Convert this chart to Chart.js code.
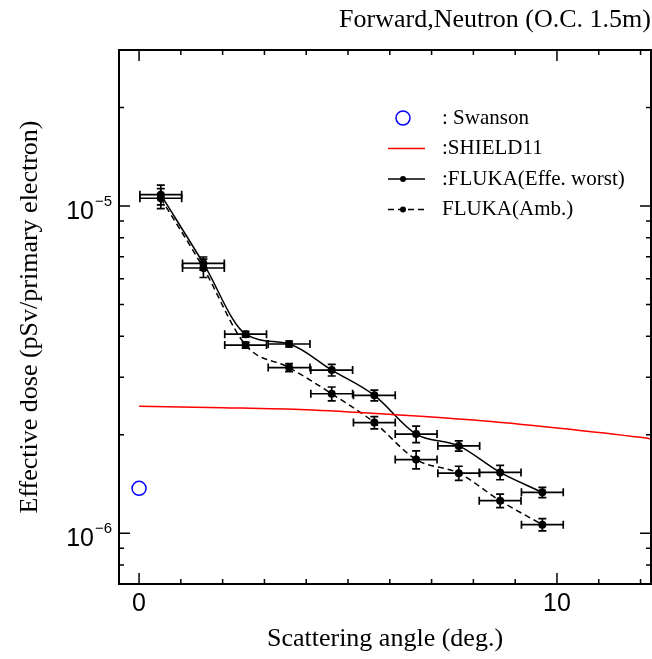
<!DOCTYPE html>
<html>
<head>
<meta charset="utf-8">
<script src="https://cdn.jsdelivr.net/npm/chart.js@4.4.1/dist/chart.umd.min.js"></script>
<style>
  html, body { margin: 0; padding: 0; background: #fff; }
  canvas { display: block; }
</style>
</head>
<body>
<canvas id="doseChart" width="652" height="659"></canvas>
<script>
// FLUKA bins (deg.), each bin is +-0.5 deg wide
const flukaAngles = [0.52, 1.54, 2.55, 3.59, 4.61, 5.63, 6.63, 7.65, 8.64, 9.65];
const flukaAngleErr = 0.5;

// effective dose, worst geometry
const flukaEffeWorst    = [1.084e-5, 6.68e-6, 4.06e-6, 3.79e-6, 3.155e-6, 2.64e-6, 2.01e-6, 1.85e-6, 1.535e-6, 1.334e-6];
const flukaEffeWorstErr = [7.5e-7, 3.1e-7, 8.5e-8, 8e-8, 1.3e-7, 1.0e-7, 1.17e-7, 6.6e-8, 7.7e-8, 4.8e-8];

// ambient dose equivalent
const flukaAmb    = [1.057e-5, 6.47e-6, 3.76e-6, 3.21e-6, 2.67e-6, 2.18e-6, 1.68e-6, 1.527e-6, 1.258e-6, 1.063e-6];
const flukaAmbErr = [7.4e-7, 4.2e-7, 8e-8, 9e-8, 1.3e-7, 9.4e-8, 1.06e-7, 7.6e-8, 6e-8, 4.6e-8];

// SHIELD11 curve
const shieldAngles = [0, 2, 4, 6, 8, 10, 12, 12.3];
const shieldDose   = [2.444e-6, 2.42e-6, 2.385e-6, 2.31e-6, 2.22e-6, 2.10e-6, 1.965e-6, 1.94e-6];

// Swanson estimate
const swansonAngle = [0];
const swansonDose  = [1.372e-6];

// axis ticks
const xLabelTicks = [0, 10];
const xMinorTicks = [0, 1, 2, 3, 4, 5, 6, 7, 8, 9, 10, 11, 12];
const yLabelExponents = [-6, -5];
const yMinorTicks = [7e-7, 8e-7, 9e-7, 1e-6, 2e-6, 3e-6, 4e-6, 5e-6, 6e-6, 7e-6, 8e-6, 9e-6, 1e-5, 2e-5];

function toPoints(xs, ys) {
    return xs.map((x, i) => ({ x: x, y: ys[i] }));
}

const serif = 'Liberation Serif';
const sans = 'Liberation Sans';

// error bars for datasets that carry xErr / yErr
const errorBars = {
    id: 'errorBars',
    afterDatasetsDraw(chart) {
        const ctx = chart.ctx;
        const xs = chart.scales.x, ys = chart.scales.y;
        const cap = 4;
        chart.data.datasets.forEach(ds => {
            if (!ds.yErr) return;
            ctx.save();
            ctx.strokeStyle = '#000';
            ctx.lineWidth = 1.7;
            ctx.beginPath();
            ds.data.forEach((p, i) => {
                const px = xs.getPixelForValue(p.x);
                const py = ys.getPixelForValue(p.y);
                const x0 = xs.getPixelForValue(p.x - ds.xErr);
                const x1 = xs.getPixelForValue(p.x + ds.xErr);
                const y0 = ys.getPixelForValue(p.y - ds.yErr[i]);
                const y1 = ys.getPixelForValue(p.y + ds.yErr[i]);
                ctx.moveTo(x0, py); ctx.lineTo(x1, py);
                ctx.moveTo(x0, py - cap); ctx.lineTo(x0, py + cap);
                ctx.moveTo(x1, py - cap); ctx.lineTo(x1, py + cap);
                ctx.moveTo(px, y0); ctx.lineTo(px, y1);
                ctx.moveTo(px - cap, y0); ctx.lineTo(px + cap, y0);
                ctx.moveTo(px - cap, y1); ctx.lineTo(px + cap, y1);
            });
            ctx.stroke();
            ctx.restore();
        });
    }
};

// box frame with inward ticks on all four sides
const frameTicks = {
    id: 'frameTicks',
    afterDraw(chart) {
        const { ctx, chartArea: a, scales: { x, y } } = chart;
        ctx.save();
        ctx.strokeStyle = '#000';
        ctx.lineWidth = 1.5;
        ctx.beginPath();
        xMinorTicks.forEach(v => {
            const px = x.getPixelForValue(v);
            const len = xLabelTicks.includes(v) ? 11 : 5;
            ctx.moveTo(px, a.bottom); ctx.lineTo(px, a.bottom - len);
            ctx.moveTo(px, a.top); ctx.lineTo(px, a.top + len);
        });
        yMinorTicks.forEach(v => {
            const py = y.getPixelForValue(v);
            const lg = Math.log10(v);
            const len = Math.abs(lg - Math.round(lg)) < 1e-9 ? 11 : 5;
            ctx.moveTo(a.left, py); ctx.lineTo(a.left + len, py);
            ctx.moveTo(a.right, py); ctx.lineTo(a.right - len, py);
        });
        ctx.stroke();
        ctx.lineWidth = 2;
        ctx.strokeRect(a.left, a.top, a.right - a.left, a.bottom - a.top);
        ctx.restore();
    }
};

// 10^n labels on the y axis
const yPowerLabels = {
    id: 'yPowerLabels',
    afterDraw(chart) {
        const ctx = chart.ctx, ys = chart.scales.y;
        const right = chart.chartArea.left - 25;
        ctx.save();
        ctx.fillStyle = '#000';
        ctx.textBaseline = 'alphabetic';
        yLabelExponents.forEach(e => {
            const py = ys.getPixelForValue(Math.pow(10, e));
            ctx.font = '25px "' + sans + '"';
            ctx.textAlign = 'right';
            ctx.fillText('10', right, py + 13);
            ctx.font = '15px "' + sans + '"';
            ctx.textAlign = 'left';
            ctx.fillText('\u2212' + Math.abs(e), right + 1, py);
        });
        ctx.restore();
    }
};

// legend inside the plot, upper right
const insideLegend = {
    id: 'insideLegend',
    afterDraw(chart) {
        const ctx = chart.ctx;
        const lineX0 = 388, lineX1 = 425, markX = 403, textX = 442;
        const rowY = 118, rowGap = 30.5;
        ctx.save();
        ctx.font = '21px "' + serif + '"';
        ctx.textBaseline = 'middle';
        chart.data.datasets.forEach((ds, i) => {
            const y = rowY + i * rowGap;
            if (ds.showLine) {
                ctx.strokeStyle = ds.borderColor;
                ctx.lineWidth = ds.borderWidth;
                ctx.setLineDash(ds.borderDash || []);
                ctx.beginPath();
                ctx.moveTo(lineX0, y); ctx.lineTo(lineX1, y);
                ctx.stroke();
                ctx.setLineDash([]);
                if (ds.pointRadius > 0) {
                    ctx.fillStyle = ds.pointBackgroundColor;
                    ctx.beginPath();
                    ctx.arc(markX, y, 3, 0, 2 * Math.PI);
                    ctx.fill();
                }
            } else {
                ctx.strokeStyle = ds.pointBorderColor;
                ctx.lineWidth = ds.pointBorderWidth;
                ctx.beginPath();
                ctx.arc(markX, y, 7, 0, 2 * Math.PI);
                ctx.stroke();
            }
            ctx.fillStyle = '#000';
            ctx.textAlign = 'left';
            ctx.fillText(ds.label, textX, y);
        });
        ctx.restore();
    }
};

const ctx = document.getElementById('doseChart').getContext('2d');
new Chart(ctx, {
    type: 'scatter',
    data: {
        datasets: [
            {
                label: ': Swanson',
                data: toPoints(swansonAngle, swansonDose),
                showLine: false,
                pointStyle: 'circle',
                pointRadius: 7,
                pointBorderColor: '#0000ff',
                pointBackgroundColor: 'rgba(0,0,0,0)',
                pointBorderWidth: 1.5
            },
            {
                label: ':SHIELD11',
                data: toPoints(shieldAngles, shieldDose),
                showLine: true,
                borderColor: '#ff0000',
                borderWidth: 1.5,
                pointRadius: 0,
                cubicInterpolationMode: 'monotone'
            },
            {
                label: ':FLUKA(Effe. worst)',
                data: toPoints(flukaAngles, flukaEffeWorst),
                xErr: flukaAngleErr,
                yErr: flukaEffeWorstErr,
                showLine: true,
                borderColor: '#000',
                borderWidth: 1.5,
                pointRadius: 4,
                pointBackgroundColor: '#000',
                pointBorderWidth: 0,
                cubicInterpolationMode: 'monotone'
            },
            {
                label: 'FLUKA(Amb.)',
                data: toPoints(flukaAngles, flukaAmb),
                xErr: flukaAngleErr,
                yErr: flukaAmbErr,
                showLine: true,
                borderColor: '#000',
                borderWidth: 1.5,
                borderDash: [6, 4],
                pointRadius: 4,
                pointBackgroundColor: '#000',
                pointBorderWidth: 0,
                cubicInterpolationMode: 'monotone'
            }
        ]
    },
    options: {
        responsive: false,
        animation: false,
        layout: { autoPadding: false, padding: { left: 0, right: 1, top: 0, bottom: 0 } },
        plugins: {
            legend: { display: false },
            tooltip: { enabled: false },
            title: {
                display: true,
                text: 'Forward,Neutron (O.C. 1.5m)',
                align: 'end',
                color: '#000',
                font: { family: serif, size: 26, weight: 'normal' },
                padding: { top: 5, bottom: 13.8 }
            }
        },
        scales: {
            x: {
                type: 'linear',
                min: -0.48,
                max: 12.25,
                grid: { display: false, drawTicks: false },
                border: { display: false },
                afterBuildTicks: s => { s.ticks = xLabelTicks.map(v => ({ value: v })); },
                afterFit: s => { s.height = 75; },
                ticks: {
                    color: '#000',
                    font: { family: sans, size: 25 },
                    padding: 5,
                    maxRotation: 0,
                    callback: v => String(v)
                },
                title: {
                    display: true,
                    text: 'Scattering angle (deg.)',
                    color: '#000',
                    font: { family: serif, size: 26 },
                    padding: { top: 0, bottom: 4 }
                }
            },
            y: {
                type: 'logarithmic',
                min: 7e-7,
                max: 3e-5,
                grid: { display: false, drawTicks: false },
                border: { display: false },
                ticks: { display: false },
                afterFit: s => { s.width = 119; },
                title: {
                    display: true,
                    text: 'Effective dose (pSv/primary electron)',
                    color: '#000',
                    font: { family: serif, size: 26 },
                    padding: { top: 15, bottom: 0 }
                }
            }
        }
    },
    plugins: [errorBars, frameTicks, yPowerLabels, insideLegend]
});
</script>
</body>
</html>
